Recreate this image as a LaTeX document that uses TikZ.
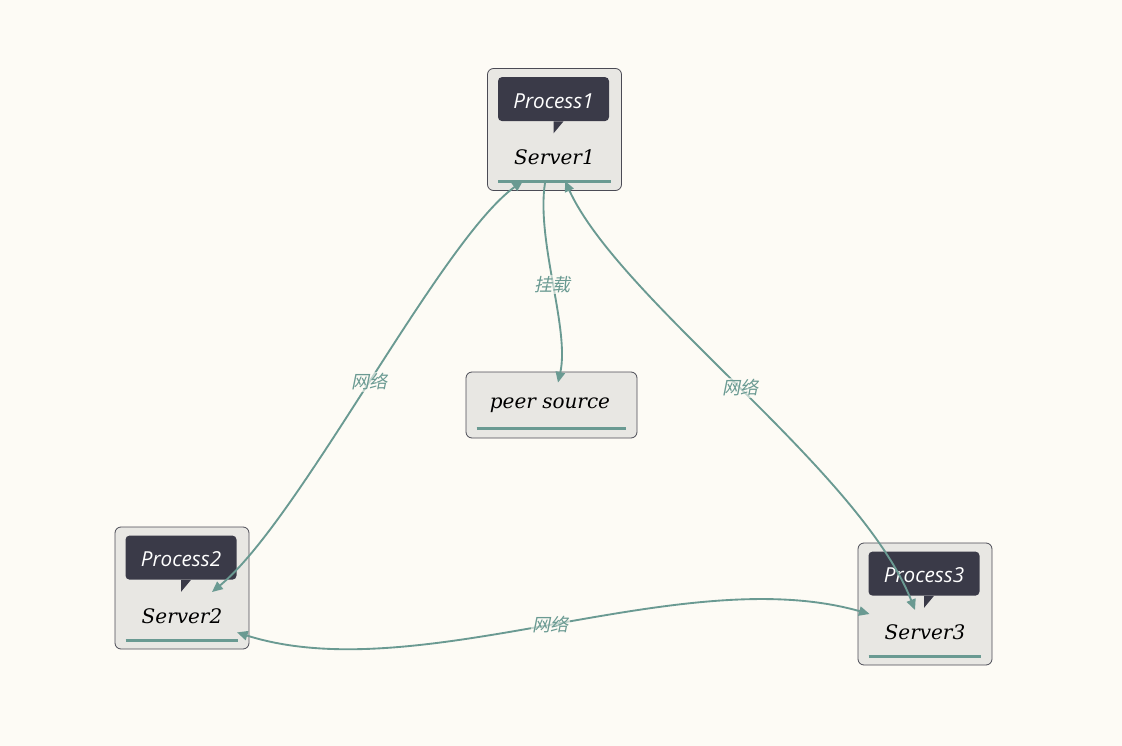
\documentclass[tikz,border=0pt]{standalone}
\usepackage{fontspec}
\newfontfamily\procfont{Open Sans}
\newfontfamily\srvfont{DejaVu Serif}
\newfontfamily\cjk[FakeSlant=0.2]{Noto Sans CJK SC}
\usepackage{tikz}
\usetikzlibrary{arrows.meta, calc}

\definecolor{bgcol}{HTML}{FDFBF5}
\definecolor{boxfill}{HTML}{E8E7E3}
\definecolor{boxline}{HTML}{4B4B55}
\definecolor{tagfill}{HTML}{3A3A48}
\definecolor{linkcol}{HTML}{6A9A92}

\begin{document}
\begin{tikzpicture}[
        x=0.75pt, y=-0.75pt,
        server_box/.style={rectangle, draw=boxline, fill=boxfill, line width=0.6pt,
                           rounded corners=4.5pt, minimum width=100.5pt, minimum height=91.5pt},
        peer_box/.style={rectangle, draw=boxline, fill=boxfill, line width=0.6pt,
                         rounded corners=4.5pt, minimum width=128.25pt, minimum height=49.5pt},
        proc_tag/.style={rectangle, fill=tagfill, rounded corners=3pt, minimum width=83.25pt,
                         minimum height=33pt, text=white, text height=14pt, text depth=0pt,
                         font=\procfont\itshape\fontsize{15.5}{15.5}\selectfont},
        srv_name/.style={font=\srvfont\itshape\fontsize{15}{15}\selectfont, text=black},
        uline/.style={linkcol, line width=2.25pt},
        net/.style={linkcol, line width=1.4pt, {Triangle[width=7pt,length=8pt]}-{Triangle[width=7pt,length=8pt]}},
        mount/.style={linkcol, line width=1.4pt, -{Triangle[width=7pt,length=8pt]}},
        lbl/.style={font=\cjk\fontsize{13.5}{13.5}\selectfont, text=linkcol, fill=bgcol,
                    fill opacity=0.6, text opacity=1, inner sep=1pt}
    ]

    \useasboundingbox (0,0) rectangle (1122,746);
    \fill[bgcol] (0,0) rectangle (1122,746);

    % servers with their process tags
    \foreach \i/\x/\y in {1/554.5/129.5, 2/182/588, 3/925/604} {
        \node[server_box] (s\i) at (\x,\y) {};
        \node[proc_tag] (p\i) at ($(s\i.north)+(-1,31)$) {Process\i};
        \fill[tagfill] (p\i.south) -- ++(0,12) -- ($(p\i.south)+(10,0)$) -- cycle;
        \node[srv_name] (t\i) at ($(s\i.center)+(0,28)$) {Server\i};
        \draw[uline] ($(s\i.south west)+(11,-9)$) -- ($(s\i.south east)+(-11,-9)$);
    }

    \node[peer_box] (peer) at (551.5,405) {};
    \node[srv_name] (tpeer) at (550,405) {peer source};
    \draw[uline] ($(peer.south west)+(11,-10)$) -- ($(peer.south east)+(-11,-10)$);

    % connector ends
    \coordinate (s1_m)  at ($(s1.south)+(-9.5,-8)$);
    \coordinate (s1_l)  at ($(s1.south)+(-31.5,-10)$);
    \coordinate (s1_r)  at ($(s1.south)+(10.5,-10)$);
    \coordinate (s2_t)  at ($(s2.center)+(30,4)$);
    \coordinate (s2_b)  at ($(s2.south)+(55,-17)$);
    \coordinate (s3_t)  at ($(s3.center)+(-10,6)$);
    \coordinate (s3_l)  at ($(s3.west)+(12,10)$);
    \coordinate (peer_t) at ($(peer.north)+(6.5,11)$);

    \draw[mount] (s1_m) .. controls +(-9,58) and +(12,-53) .. node[lbl] {挂载} (peer_t);
    \draw[net] (s1_l) .. controls +(-83,60) and +(88,-72) .. node[lbl] {网络} (s2_t);
    \draw[net] (s1_r) .. controls +(55,120) and +(-55,-140) .. node[lbl] {网络} (s3_t);
    \draw[net] (s2_b) .. controls +(183,58) and +(-190,-54) .. node[lbl] {网络} (s3_l);
\end{tikzpicture}
\end{document}
